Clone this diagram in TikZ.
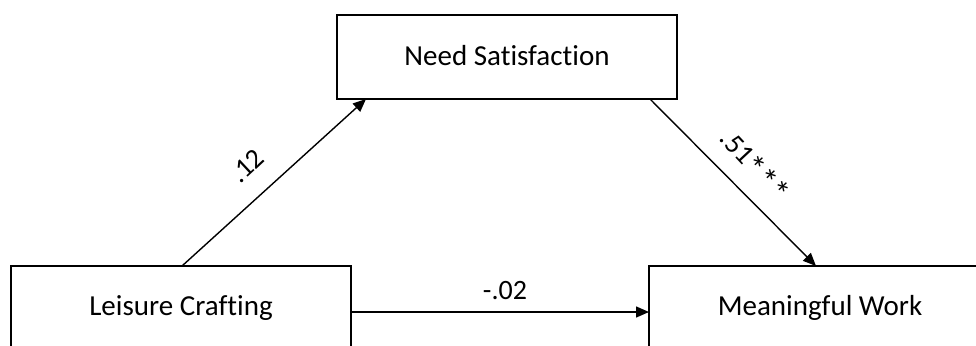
\documentclass[tikz,border=0pt]{standalone}
\usepackage{fontspec}
\setmainfont{Carlito}[Ligatures=CommonOff]
\usetikzlibrary{arrows.meta}
\begin{document}
\begin{tikzpicture}[x=1pt,y=-1pt,
  varbox/.style={draw, line width=2.2pt, fill=white},
  path/.style={line width=1.4pt, -{Triangle[length=13pt,width=11pt]}},
  lbl/.style={font=\fontsize{28}{32}\selectfont, inner sep=1pt},
  every node/.style={font=\fontsize{29}{34}\selectfont}]
  \clip (0,0) rectangle (976,345);
  \useasboundingbox (0,0) rectangle (976,345);
  % variable boxes
  \draw[varbox] (337,15) rectangle (677,99);
  \node (ns) at (507,56) {Need Satisfaction};
  \draw[varbox] (11,266) rectangle (351,360);
  \node (lc) at (181,308) {Leisure Crafting};
  \draw[varbox] (649,266) rectangle (995,360);
  \node (mw) at (820,308) {Meaningful Work};
  % anchor points on the box edges
  \coordinate (lcTop) at (182,266);
  \coordinate (nsIn) at (366,99);
  \coordinate (nsOut) at (650,99);
  \coordinate (mwTop) at (816,266);
  \coordinate (lcRight) at (351,312);
  \coordinate (mwLeft) at (649,312);
  % paths
  \draw[path] (lcTop) -- (nsIn);
  \draw[path] (nsOut) -- (mwTop);
  \draw[path] (lcRight) -- (mwLeft);
  % coefficients
  \node[lbl, rotate=43] (a) at (247,166) {.12};
  \node[lbl, rotate=-47] (b) at (754,166) {.51{\fontsize{34}{36}\selectfont\raisebox{-4pt}{*}\raisebox{-4pt}{*}\raisebox{-4pt}{*}}};
  \node[lbl] (c) at (505,291) {-.02};
\end{tikzpicture}
\end{document}
